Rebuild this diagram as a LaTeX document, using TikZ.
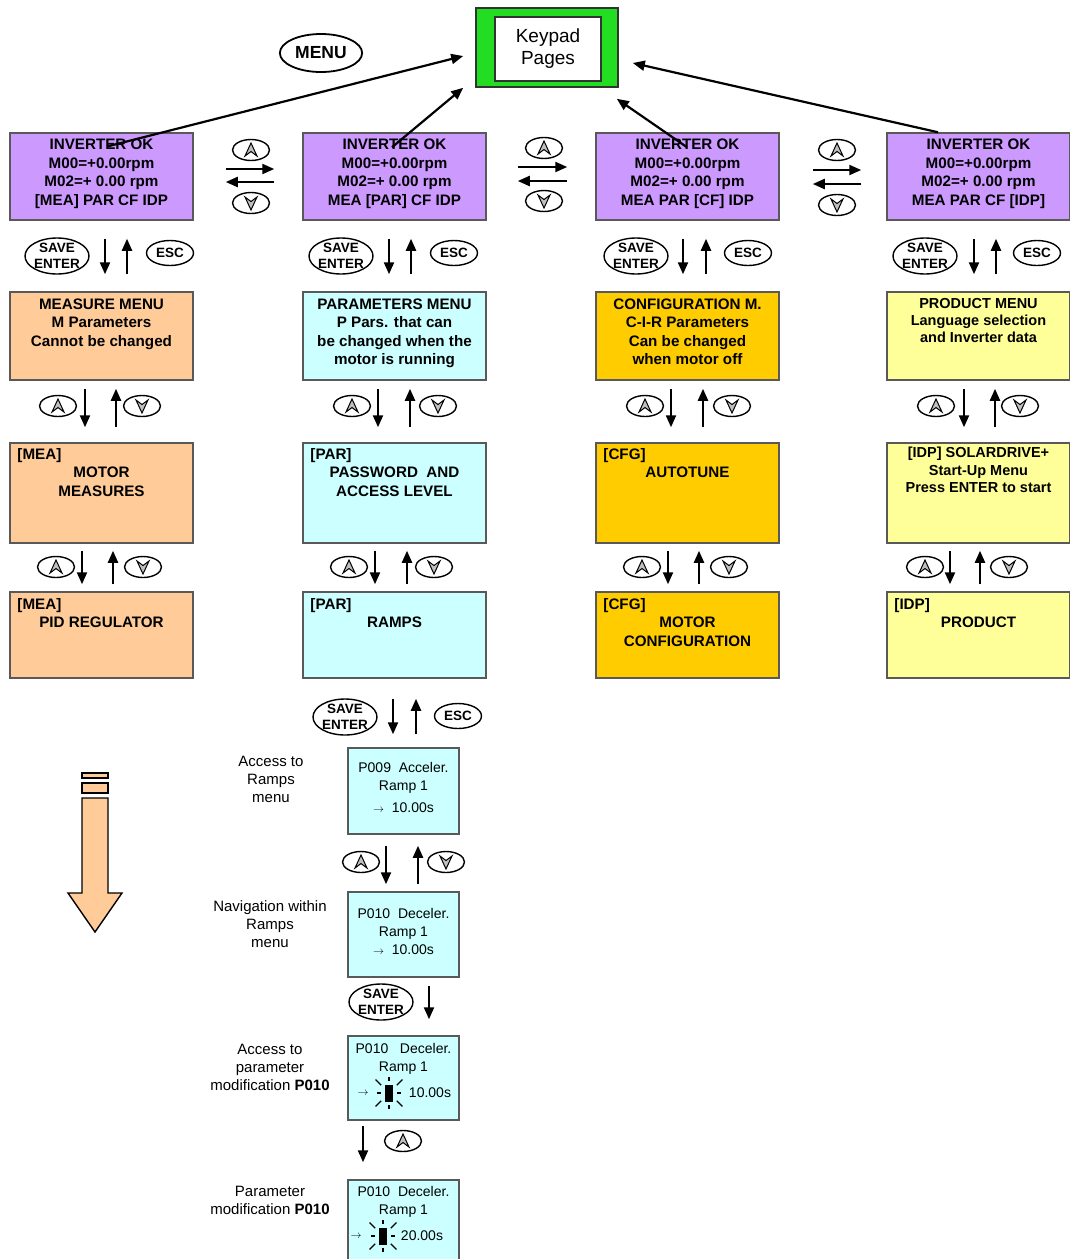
\documentclass[tikz,border=0pt]{standalone}
\usepackage{fontspec}
\setmainfont{Liberation Sans}
\usetikzlibrary{arrows.meta, shapes.geometric, calc, positioning}
\definecolor{lcdPurple}{HTML}{CC99FF}
\definecolor{meaOrange}{HTML}{FFCC99}
\definecolor{parCyan}{HTML}{CCFFFF}
\definecolor{cfgGold}{HTML}{FFCC00}
\definecolor{idpYellow}{HTML}{FFFF99}
\definecolor{keypadGreen}{HTML}{22DD22}

% keypad buttons
\newcommand{\keyup}[2]{%
  \node[keyshape] (#1) at (#2) {};
  \filldraw[keymark] ($(#1)+(0,-7)$) -- ++(6,13) -- ++(-6,-4.5) -- ++(-6,4.5) -- cycle;}
\newcommand{\keydown}[2]{%
  \node[keyshape] (#1) at (#2) {};
  \filldraw[keymark] ($(#1)+(0,7)$) -- ++(6,-13) -- ++(-6,4.5) -- ++(-6,-4.5) -- cycle;}
\newcommand{\savekey}[2]{%
  \node[savetext] (#1) at (#2) {SAVE\\ENTER};
  \draw[line width=1.4pt] (#1.center) ellipse [x radius=32, y radius=18];}
\newcommand{\blinkcursor}[2]{%
  \node[fill=black, minimum width=8, minimum height=17, inner sep=0] (#1) at (#2) {};
  \foreach \a in {0,180} \draw[line width=1.3pt] ($(#1)+(\a:8)$) -- ($(#1)+(\a:12)$);
  \foreach \a in {90,270} \draw[line width=1.3pt] ($(#1)+(\a:12)$) -- ($(#1)+(\a:16)$);
  \foreach \a in {45,135,225,315} \draw[line width=1.3pt] ($(#1)+(\a:11)$) -- ($(#1)+(\a:19)$);}

\begin{document}
\begin{tikzpicture}[x=1pt, y=-1pt,
    box/.style={draw=black!65, line width=1.5pt, minimum width=183, inner sep=0},
    boxtext/.style={font=\fontsize{15.2}{18.5}\selectfont\bfseries, align=center, inner sep=0, anchor=north},
    tagtext/.style={font=\fontsize{15.2}{18.5}\selectfont\bfseries, inner sep=0, anchor=north west},
    lcd/.style={draw=black!65, line width=1.5pt, fill=parCyan, minimum width=111, inner sep=0},
    lcdtext/.style={font=\fontsize{14}{18}\selectfont, align=center, inner sep=0, anchor=north},
    sidetext/.style={font=\fontsize{15}{18}\selectfont, align=center, inner sep=0, anchor=north},
    nav/.style={-{Triangle[length=12pt, width=10pt]}, line width=2.2pt},
    keyshape/.style={ellipse, draw, line width=1.4pt, minimum width=37, minimum height=21, inner sep=0},
    keymark/.style={fill=gray!50, line width=1pt},
    savetext/.style={font=\fontsize{13.5}{15.5}\selectfont\bfseries, align=center, inner sep=0},
    esckey/.style={ellipse, draw, line width=1.4pt, minimum width=47, minimum height=25, inner sep=0,
      font=\fontsize{13.5}{15}\selectfont\bfseries},
  ]
  \useasboundingbox (0,0) rectangle (1069,1259);

  % keypad pages and menu key
  \node[draw=black!80, line width=1.6pt, fill=keypadGreen, minimum width=142, minimum height=79] (keypad) at (547,47.5) {};
  \node[draw=black!80, line width=1.6pt, fill=white, minimum width=106, minimum height=64, align=center,
    font=\fontsize{19}{22}\selectfont] (pages) at (548,49) {Keypad\\Pages};
  \node[ellipse, draw, line width=1.8pt, minimum width=82, minimum height=38,
    font=\fontsize{17.5}{20}\selectfont\bfseries] (menu) at (321,53) {MENU};

  % menu boxes
  \foreach \c/\xc/\col in {a/101.5/meaOrange, b/394.5/parCyan, c/687.5/cfgGold, d/978.5/idpYellow} {
    \node[box, fill=lcdPurple, minimum height=87] (r1\c) at (\xc,176.5) {};
    \node[box, fill=\col, minimum height=88] (r2\c) at (\xc,336) {};
    \node[box, fill=\col, minimum height=100] (r3\c) at (\xc,493) {};
    \node[box, fill=\col, minimum height=86] (r4\c) at (\xc,635) {};
  }

  \node[boxtext] (r1at) at ($(r1a.north)+(0,6.5)$) {INVERTER OK\\M00=+0.00rpm\\M02=+ 0.00 rpm\\{}[MEA] PAR CF IDP};
  \node[boxtext] (r1bt) at ($(r1b.north)+(0,6.5)$) {INVERTER OK\\M00=+0.00rpm\\M02=+ 0.00 rpm\\MEA [PAR] CF IDP};
  \node[boxtext] (r1ct) at ($(r1c.north)+(0,6.5)$) {INVERTER OK\\M00=+0.00rpm\\M02=+ 0.00 rpm\\MEA PAR [CF] IDP};
  \node[boxtext] (r1dt) at ($(r1d.north)+(0,6.5)$) {INVERTER OK\\M00=+0.00rpm\\M02=+ 0.00 rpm\\MEA PAR CF [IDP]};

  \node[boxtext] (r2at) at ($(r2a.north)+(0,7)$) {MEASURE MENU\\M Parameters\\Cannot be changed};
  \node[boxtext] (r2bt) at ($(r2b.north)+(0,7)$) {PARAMETERS MENU\\P Pars. that can\\be changed when the\\motor is running};
  \node[boxtext] (r2ct) at ($(r2c.north)+(0,7)$) {CONFIGURATION M.\\C-I-R Parameters\\Can be changed\\when motor off};
  \node[boxtext, font=\fontsize{14.5}{17}\selectfont\bfseries] (r2dt) at ($(r2d.north)+(0,7)$) {PRODUCT MENU\\Language selection\\and Inverter data};

  \node[tagtext] (r3ag) at ($(r3a.north west)+(8,6)$) {[MEA]};
  \node[boxtext] (r3at) at ($(r3a.north)+(0,24.5)$) {MOTOR\\MEASURES};
  \node[tagtext] (r3bg) at ($(r3b.north west)+(8,6)$) {[PAR]};
  \node[boxtext] (r3bt) at ($(r3b.north)+(0,24.5)$) {PASSWORD\ \ AND\\ACCESS LEVEL};
  \node[tagtext] (r3cg) at ($(r3c.north west)+(8,6)$) {[CFG]};
  \node[boxtext] (r3ct) at ($(r3c.north)+(0,24.5)$) {AUTOTUNE};
  \node[boxtext, font=\fontsize{14.5}{17.5}\selectfont\bfseries] (r3dt) at ($(r3d.north)+(0,5)$) {[IDP] SOLARDRIVE+\\Start-Up Menu\\Press ENTER to start};

  \node[tagtext] (r4ag) at ($(r4a.north west)+(8,7)$) {[MEA]};
  \node[boxtext] (r4at) at ($(r4a.north)+(0,25.5)$) {PID REGULATOR};
  \node[tagtext] (r4bg) at ($(r4b.north west)+(8,7)$) {[PAR]};
  \node[boxtext] (r4bt) at ($(r4b.north)+(0,25.5)$) {RAMPS};
  \node[tagtext] (r4cg) at ($(r4c.north west)+(8,7)$) {[CFG]};
  \node[boxtext] (r4ct) at ($(r4c.north)+(0,25.5)$) {MOTOR\\CONFIGURATION};
  \node[tagtext] (r4dg) at ($(r4d.north west)+(8,7)$) {[IDP]};
  \node[boxtext] (r4dt) at ($(r4d.north)+(0,25.5)$) {PRODUCT};

  % arrows to the keypad pages
  \draw[nav] ($(r1a.north)+(6.5,14)$) -- ($(keypad.west)+(-12,8.5)$);
  \draw[nav] ($(r1b.north)+(-2.5,15)$) -- ($(keypad.south west)+(-12,0)$);
  \draw[nav] ($(r1c.north)+(-0.5,15)$) -- ($(keypad.south east)+(-2,11)$);
  \draw[nav] ($(r1d.north)+(-40.5,0)$) -- ($(keypad.east)+(14,15.5)$);

  % moving between the pages
  \keyup{kh1}{251,150}
  \keydown{kh2}{251,203}
  \draw[nav, shorten <=32, shorten >=28] ([yshift=7.5]r1a.east) -- ([yshift=7.5]r1b.west);
  \draw[nav, shorten <=28, shorten >=32] ([yshift=-5.5]r1b.west) -- ([yshift=-5.5]r1a.east);
  \keyup{kh3}{544,148}
  \keydown{kh4}{544,201}
  \draw[nav, shorten <=31, shorten >=28] ([yshift=9.5]r1b.east) -- ([yshift=9.5]r1c.west);
  \draw[nav, shorten <=28, shorten >=31] ([yshift=-4.5]r1c.west) -- ([yshift=-4.5]r1b.east);
  \keyup{kh5}{837,150}
  \keydown{kh6}{837,205}
  \draw[nav, shorten <=33, shorten >=25] ([yshift=6.5]r1c.east) -- ([yshift=6.5]r1d.west);
  \draw[nav, shorten <=25, shorten >=33] ([yshift=-7.5]r1d.west) -- ([yshift=-7.5]r1c.east);

  % enter / esc between page and menu
  \foreach \c/\sx/\dx/\ux/\ex in {a/57/105/127/170, b/341/389/411/454, c/636/683/706/748, d/925/974/996/1037} {
    \savekey{sv\c}{\sx,256}
    \node[esckey] (esc\c) at (\ex,253) {ESC};
    \draw[nav, shorten <=18, shorten >=17] (r1\c.south -| \dx,0) -- (r2\c.north -| \dx,0);
    \draw[nav, shorten <=17, shorten >=18] (r2\c.north -| \ux,0) -- (r1\c.south -| \ux,0);
  }

  % up / down inside the menus
  \foreach \c/\kl/\dx/\ux/\kr in {a/58/85/116/142, b/352/378/410/438, c/645/671/703/732, d/936/964/995/1020} {
    \keyup{kua\c}{\kl,406}
    \keydown{kda\c}{\kr,406}
    \draw[nav, shorten <=8, shorten >=15] (r2\c.south -| \dx,0) -- (r3\c.north -| \dx,0);
    \draw[nav, shorten <=15, shorten >=8] (r3\c.north -| \ux,0) -- (r2\c.south -| \ux,0);
  }
  \foreach \c/\kl/\dx/\ux/\kr in {a/56/82/113/143, b/349/375/407/434, c/642/668/699/729, d/925/950/980/1009} {
    \keyup{kub\c}{\kl,567}
    \keydown{kdb\c}{\kr,567}
    \draw[nav, shorten <=7, shorten >=7] (r3\c.south -| \dx,0) -- (r4\c.north -| \dx,0);
    \draw[nav, shorten <=7, shorten >=7] (r4\c.north -| \ux,0) -- (r3\c.south -| \ux,0);
  }

  % ramps example
  \node[lcd, minimum height=86] (lcd1) at (403.5,791) {};
  \node[lcd, minimum height=85] (lcd2) at (403.5,934.5) {};
  \node[lcd, minimum height=84] (lcd3) at (403.5,1078) {};
  \node[lcd, minimum height=86] (lcd4) at (403.5,1223) {};

  \node[lcdtext] (lcd1t) at ($(lcd1.north)+(0,15)$) {P009\ \ Acceler.\\Ramp 1\\[4pt]{\fontsize{11}{11}\selectfont$\rightarrow$}\ \ 10.00s};
  \node[lcdtext] (lcd2t) at ($(lcd2.north)+(0,17)$) {P010\ \ Deceler.\\Ramp 1\\{\fontsize{11}{11}\selectfont$\rightarrow$}\ \ 10.00s};
  \node[lcdtext] (lcd3t) at ($(lcd3.north)+(0,8)$) {P010\ \ \ Deceler.\\Ramp 1};
  \node[font=\fontsize{11}{11}\selectfont, inner sep=0] (lcd3a) at (363,1093) {$\rightarrow$};
  \blinkcursor{cur3}{389,1093}
  \node[font=\fontsize{14}{18}\selectfont, inner sep=0] (lcd3v) at (430,1093) {10.00s};
  \node[lcdtext] (lcd4t) at ($(lcd4.north)+(0,7)$) {P010\ \ Deceler.\\Ramp 1};
  \node[font=\fontsize{11}{11}\selectfont, inner sep=0] (lcd4a) at (356,1236) {$\rightarrow$};
  \blinkcursor{cur4}{383,1236}
  \node[font=\fontsize{14}{18}\selectfont, inner sep=0] (lcd4v) at (422,1236) {20.00s};

  \savekey{sv5}{345,717}
  \node[esckey] (esc5) at (458,716) {ESC};
  \draw[nav, shorten <=20, shorten >=13] (r4b.south -| 393,0) -- (lcd1.north -| 393,0);
  \draw[nav, shorten <=13, shorten >=20] (lcd1.north -| 416,0) -- (r4b.south -| 416,0);

  \keyup{kr1}{361,862}
  \keydown{kr2}{446,862}
  \draw[nav, shorten <=11, shorten >=7] (lcd1.south -| 386,0) -- (lcd2.north -| 386,0);
  \draw[nav, shorten <=7, shorten >=11] (lcd2.north -| 418,0) -- (lcd1.south -| 418,0);

  \savekey{sv6}{381,1002}
  \draw[nav, shorten <=8, shorten >=16] (lcd2.south -| 429,0) -- (lcd3.north -| 429,0);

  \keyup{kr3}{403,1141}
  \draw[nav, shorten <=5, shorten >=17] (lcd3.south -| 363,0) -- (lcd4.north -| 363,0);

  % side labels
  \node[sidetext] (lbl1) at (271,756) {Access to\\Ramps\\menu};
  \node[sidetext] (lbl2) at (270,900) {Navigation within\\Ramps\\menu};
  \node[sidetext] (lbl3) at (270,1044) {Access to\\parameter\\modification \textbf{P010}};
  \node[sidetext] (lbl4) at (270,1186) {Parameter\\modification \textbf{P010}};

  % big down arrow
  \filldraw[fill=meaOrange, line width=1.4pt] (82,773) rectangle (108,778);
  \filldraw[fill=meaOrange, line width=1.4pt] (82,783) rectangle (108,793);
  \filldraw[fill=meaOrange, line width=1.4pt] (82,798) -- (108,798) -- (108,893) -- (122,893)
    -- (95,932) -- (68,893) -- (82,893) -- cycle;
\end{tikzpicture}
\end{document}
